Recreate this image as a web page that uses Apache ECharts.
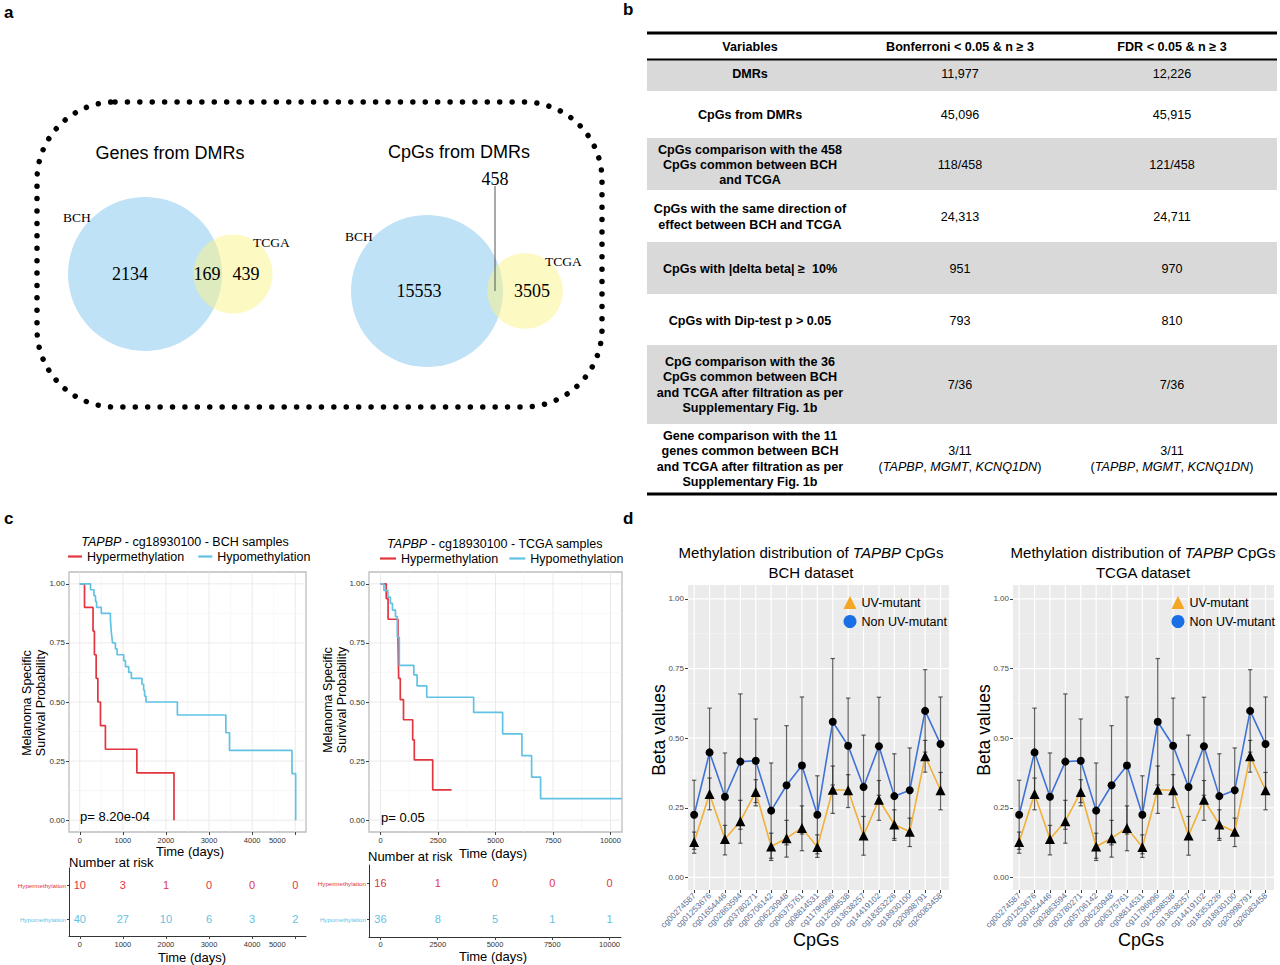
<!DOCTYPE html>
<html><head><meta charset="utf-8">
<script src="https://cdn.jsdelivr.net/npm/echarts@6/dist/echarts.min.js"></script>
<style>html,body{margin:0;padding:0;background:#fff}#c{width:1280px;height:965px}</style>
</head><body><div id="c"></div>
<script>
// ================= DATA =================
// Panel a – Venn counts: [BCH only, shared, TCGA only]
const vennSets = ['BCH', 'TCGA'];
const vennGenes = [2134, 169, 439];
const vennCpGs = [15553, 458, 3505];
const vennTitles = ['Genes from DMRs', 'CpGs from DMRs'];

// Panel b – table
const tableHeader = ['Variables', 'Bonferroni < 0.05 & n \u2265 3', 'FDR < 0.05 & n \u2265 3'];
const tableVariables = [
  'DMRs',
  'CpGs from DMRs',
  'CpGs comparison with the 458\nCpGs common between BCH\nand TCGA',
  'CpGs with the same direction of\neffect between BCH and TCGA',
  'CpGs with |delta beta| \u2265  10%',
  'CpGs with Dip-test p > 0.05',
  'CpG comparison with the 36\nCpGs common between BCH\nand TCGA after filtration as per\nSupplementary Fig. 1b',
  'Gene comparison with the 11\ngenes common between BCH\nand TCGA after filtration as per\nSupplementary Fig. 1b'
];
const tableBonferroni = ['11,977', '45,096', '118/458', '24,313', '951', '793', '7/36', '3/11'];
const tableFDR = ['12,226', '45,915', '121/458', '24,711', '970', '810', '7/36', '3/11'];
const tableGenes = ['TAPBP', 'MGMT', 'KCNQ1DN'];

// Panel c – Kaplan-Meier (time in days, survival probability)
const kmGroups = ['Hypermethylation', 'Hypomethylation'];
const bchHyperTime = [0, 110, 308, 340, 380, 420, 480, 595, 1325, 2187];
const bchHyperSurv = [1, 0.9, 0.8, 0.7, 0.6, 0.5, 0.4, 0.3, 0.2, 0];
const bchHypoTime = [0, 250, 330, 365, 390, 500, 711, 720, 730, 745, 760, 827, 866, 1020, 1060, 1136, 1197, 1443, 1482, 1505, 1536, 2265, 3390, 3475, 4925, 5010];
const bchHypoSurv = [1, 0.975, 0.95, 0.925, 0.9, 0.875, 0.85, 0.825, 0.8, 0.775, 0.75, 0.725, 0.7, 0.675, 0.65, 0.625, 0.6, 0.575, 0.55, 0.525, 0.5, 0.445, 0.37, 0.295, 0.197, 0];
const tcgaHyperTime = [0, 250, 330, 760, 790, 860, 1000, 1400, 1470, 2270, 3090];
const tcgaHyperSurv = [1, 0.9375, 0.85, 0.77, 0.6, 0.51, 0.425, 0.34, 0.255, 0.128, 0.128];
const tcgaHypoTime = [0, 150, 320, 430, 520, 650, 730, 818, 1450, 1590, 2010, 4050, 5310, 6150, 6570, 6960, 10500];
const tcgaHypoSurv = [1, 0.972, 0.944, 0.917, 0.889, 0.861, 0.775, 0.655, 0.615, 0.568, 0.52, 0.456, 0.365, 0.273, 0.182, 0.091, 0.091];
const bchPValue = 'p= 8.20e-04';
const tcgaPValue = 'p= 0.05';

// Risk tables
const bchRiskTimes = [0, 1000, 2000, 3000, 4000, 5000];
const bchRiskHyper = [10, 3, 1, 0, 0, 0];
const bchRiskHypo = [40, 27, 10, 6, 3, 2];
const tcgaRiskTimes = [0, 2500, 5000, 7500, 10000];
const tcgaRiskHyper = [16, 1, 0, 0, 0];
const tcgaRiskHypo = [36, 8, 5, 1, 1];

// KM tick labels
const kmYTicks = [0, 0.25, 0.5, 0.75, 1];
const kmYMinor = [0.125, 0.375, 0.625, 0.875];
const bchXTicks = [0, 1000, 2000, 3000, 4000, 5000];
const bchXMinor = [500, 1500, 2500, 3500, 4500];
const tcgaXTicks = [0, 2500, 5000, 7500, 10000];
const tcgaXMinor = [1250, 3750, 6250, 8750];

// Panel d – methylation distribution
const cpgs = ['cg00274587', 'cg01253676', 'cg01654446', 'cg02863594', 'cg03780271', 'cg05706142', 'cg06230948', 'cg06375761', 'cg08814531', 'cg11796996', 'cg12598538', 'cg13638257', 'cg14419102', 'cg18353226', 'cg18930100', 'cg20998791', 'cg26083458'];
const uvMean = [0.127, 0.300, 0.138, 0.202, 0.307, 0.111, 0.141, 0.178, 0.109, 0.315, 0.313, 0.151, 0.279, 0.190, 0.164, 0.435, 0.313];
const uvLow  = [0.087, 0.243, 0.081, 0.123, 0.257, 0.061, 0.073, 0.096, 0.072, 0.230, 0.251, 0.080, 0.205, 0.133, 0.111, 0.378, 0.243];
const uvHigh = [0.163, 0.357, 0.187, 0.277, 0.351, 0.159, 0.205, 0.257, 0.153, 0.400, 0.369, 0.219, 0.348, 0.243, 0.213, 0.492, 0.377];
const nuvMean = [0.225, 0.449, 0.290, 0.416, 0.419, 0.240, 0.331, 0.402, 0.225, 0.559, 0.473, 0.325, 0.471, 0.292, 0.313, 0.598, 0.479];
const nuvLow  = [0.101, 0.290, 0.133, 0.173, 0.269, 0.069, 0.117, 0.156, 0.085, 0.332, 0.302, 0.139, 0.295, 0.140, 0.161, 0.450, 0.310];
const nuvHigh = [0.349, 0.608, 0.447, 0.659, 0.569, 0.411, 0.545, 0.648, 0.365, 0.786, 0.644, 0.511, 0.647, 0.444, 0.465, 0.746, 0.648];
const dYTicks = [0, 0.25, 0.5, 0.75, 1];
const dYMinor = [0.125, 0.375, 0.625, 0.875];
const dSeriesNames = ['UV-mutant', 'Non UV-mutant'];
const dDatasets = ['BCH dataset', 'TCGA dataset'];

// ================= RENDER =================
const SANS = '"Liberation Sans", Arial, sans-serif';
const SERIF = '"Liberation Serif", "Times New Roman", serif';
function hasFont(name) {
  const c = document.createElement('canvas').getContext('2d');
  const s = 'mmmmmmmmmmlli WWW 0123456789';
  c.font = '20px monospace'; const a = c.measureText(s).width;
  c.font = '20px "' + name + '", monospace'; const b = c.measureText(s).width;
  return Math.abs(a - b) > 0.5;
}
const NARROW = hasFont('Liberation Sans Narrow');
const TFONT = NARROW ? '"Liberation Sans Narrow", ' + SANS : SANS;
const TSIZE = NARROW ? 13.5 : 12.6;

const RED = '#e2353f', BLUE = '#62c2e4';
const ORANGE = '#f0b13a', DBLUE = '#3f72d6';

function T(x, y, text, o) {
  o = o || {};
  const st = {
    text: text, fill: o.color || '#000', fontSize: o.size || 13,
    fontFamily: o.family || SANS, fontWeight: o.weight || 'normal',
    fontStyle: o.fstyle || 'normal', align: o.align || 'center',
    verticalAlign: o.valign || 'middle'
  };
  if (o.lh) st.lineHeight = o.lh;
  if (o.rich) st.rich = o.rich;
  return { type: 'text', x: x, y: y, rotation: o.rot || 0, silent: true, z: 10, style: st };
}
function italicRich(size, family) {
  return { i: { fontStyle: 'italic', fontSize: size, fontFamily: family, fill: '#000' } };
}

const G = [];
// panel labels
G.push(T(4, 12, 'a', { size: 17, weight: 'bold', align: 'left' }));
G.push(T(623, 9, 'b', { size: 17, weight: 'bold', align: 'left' }));
G.push(T(4, 518, 'c', { size: 17, weight: 'bold', align: 'left' }));
G.push(T(623, 518, 'd', { size: 17, weight: 'bold', align: 'left' }));

// ---- Panel a: dotted frame + Venn diagrams ----
G.push({ type: 'rect', silent: true, shape: { x: 37, y: 102, width: 565, height: 305, r: 78 },
  style: { fill: 'none', stroke: '#000', lineWidth: 5.5, lineDash: [0.01, 12.4], lineCap: 'round' } });

function venn(counts, cx, cy, R, d, lab) {
  const r = R * Math.sqrt((counts[1] + counts[2]) / (counts[0] + counts[1]));
  G.push({ type: 'circle', silent: true, shape: { cx: cx, cy: cy, r: R }, style: { fill: '#bfe2f7' } });
  G.push({ type: 'circle', silent: true, shape: { cx: cx + d, cy: cy, r: r }, style: { fill: 'rgba(251,243,135,0.5)' } });
  G.push(T(lab.title[0], lab.title[1], lab.titleText, { size: 18 }));
  G.push(T(lab.bch[0], lab.bch[1], vennSets[0], { size: 13.5, family: SERIF, align: 'left' }));
  G.push(T(lab.tcga[0], lab.tcga[1], vennSets[1], { size: 13.5, family: SERIF, align: 'left' }));
  G.push(T(lab.n0[0], lab.n0[1], String(counts[0]), { size: 18, family: SERIF }));
  G.push(T(lab.n1[0], lab.n1[1], String(counts[1]), { size: 18, family: SERIF }));
  G.push(T(lab.n2[0], lab.n2[1], String(counts[2]), { size: 18, family: SERIF }));
}
venn(vennGenes, 145, 274, 77, 88, {
  titleText: vennTitles[0], title: [170, 153], bch: [63, 217], tcga: [253, 242],
  n0: [130, 274], n1: [207, 274], n2: [246, 274] });
venn(vennCpGs, 427, 291, 76, 98, {
  titleText: vennTitles[1], title: [459, 152], bch: [345, 236], tcga: [545, 261],
  n0: [419, 291], n1: [495, 179], n2: [532, 291] });
G.push({ type: 'line', silent: true, shape: { x1: 495, y1: 186, x2: 495, y2: 291 }, style: { stroke: '#555', lineWidth: 1 } });

// ---- Panel b: table ----
const TX0 = 647, TX1 = 1277, colX = [750, 960, 1172];
const rowBounds = [60, 91, 138, 190, 242, 294, 345, 424, 492];
const rowTextY = [74, 115, 165, 217, 269, 321, 385, 459];
for (let r = 0; r < tableVariables.length; r++) {
  if (r % 2 === 0) G.push({ type: 'rect', silent: true, shape: { x: TX0, y: rowBounds[r], width: TX1 - TX0, height: rowBounds[r + 1] - rowBounds[r] }, style: { fill: '#d9d9d9' } });
}
[[33, 3], [59.5, 2.2], [494, 3]].forEach(function (l) {
  G.push({ type: 'line', silent: true, shape: { x1: TX0, y1: l[0], x2: TX1, y2: l[0] }, style: { stroke: '#000', lineWidth: l[1] } });
});
tableHeader.forEach(function (h, i) { G.push(T(colX[i], 47, h, { size: TSIZE, family: TFONT, weight: 'bold' })); });
const geneStr = '(' + tableGenes.map(function (g) { return '{i|' + g + '}'; }).join(', ') + ')';
for (let r = 0; r < tableVariables.length; r++) {
  const cy = rowTextY[r];
  G.push(T(colX[0], cy, tableVariables[r], { size: TSIZE, family: TFONT, weight: 'bold', lh: 15.3 }));
  const last = r === tableVariables.length - 1;
  [tableBonferroni[r], tableFDR[r]].forEach(function (v, k) {
    if (last) G.push(T(colX[k + 1], cy, v + '\n' + geneStr, { size: TSIZE, family: TFONT, lh: 15.3, rich: italicRich(TSIZE, TFONT) }));
    else G.push(T(colX[k + 1], cy, v, { size: TSIZE, family: TFONT }));
  });
}

// ---- Panel c texts ----
G.push(T(185, 542, '{i|TAPBP} - cg18930100 - BCH samples', { size: 12.5, rich: italicRich(12.5, SANS) }));
G.push(T(495, 544, '{i|TAPBP} - cg18930100 - TCGA samples', { size: 12.5, rich: italicRich(12.5, SANS) }));
G.push(T(34, 703, 'Melanoma Specific\nSurvival Probability', { size: 12.5, lh: 14.5, rot: Math.PI / 2 }));
G.push(T(335, 700, 'Melanoma Specific\nSurvival Probability', { size: 12.5, lh: 14.5, rot: Math.PI / 2 }));
G.push(T(190, 851, 'Time (days)', { size: 13 }));
G.push(T(493, 853, 'Time (days)', { size: 13 }));
G.push(T(80, 816, bchPValue, { size: 13, align: 'left' }));
G.push(T(381, 817, tcgaPValue, { size: 13, align: 'left' }));
G.push(T(69, 862, 'Number at risk', { size: 13, align: 'left' }));
G.push(T(368, 856, 'Number at risk', { size: 13, align: 'left' }));
G.push(T(192, 957, 'Time (days)', { size: 13 }));
G.push(T(493, 956, 'Time (days)', { size: 13 }));

// ---- Panel d texts ----
[[811, 1], [1143, 2]].forEach(function (p, k) {
  G.push(T(p[0], 552, 'Methylation distribution of {i|TAPBP} CpGs', { size: 15, rich: italicRich(15, SANS) }));
  G.push(T(p[0], 572, dDatasets[k], { size: 15 }));
});
G.push(T(659, 730, 'Beta values', { size: 17.5, rot: Math.PI / 2 }));
G.push(T(984, 730, 'Beta values', { size: 17.5, rot: Math.PI / 2 }));
G.push(T(816, 940, 'CpGs', { size: 18 }));
G.push(T(1141, 940, 'CpGs', { size: 18 }));

// ---- grids ----
const grids = [
  { left: 69, top: 572, width: 237, height: 260, show: true, backgroundColor: '#fff', borderColor: '#bdbdbd', borderWidth: 1.3 },
  { left: 369, top: 572, width: 253, height: 260, show: true, backgroundColor: '#fff', borderColor: '#bdbdbd', borderWidth: 1.3 },
  { left: 69, top: 868, width: 237, height: 68 },
  { left: 369, top: 865, width: 252, height: 72 },
  { left: 688, top: 585, width: 261, height: 305, show: true, backgroundColor: '#ebebeb', borderWidth: 0 },
  { left: 1013, top: 585, width: 261, height: 305, show: true, backgroundColor: '#ebebeb', borderWidth: 0 }
];

function valAxis(gi, min, max, ticks, o) {
  o = o || {};
  return {
    type: 'value', gridIndex: gi, min: min, max: max,
    axisLine: { show: !!o.line, onZero: false, lineStyle: { color: '#333', width: 1 } },
    splitLine: { show: false },
    axisTick: { show: true, customValues: ticks, length: 3, lineStyle: { color: '#444' } },
    axisLabel: { customValues: ticks, fontSize: o.size || 7.5, color: o.color || '#333', margin: o.margin || 4,
      formatter: o.fmt || function (v) { return String(v); }, rotate: o.rotate || 0, fontFamily: SANS,
      rich: o.rich }
  };
}
const f2 = function (v) { return v.toFixed(2); };
// the last BCH time label sits left of its tick in the reference
const bchFmt = function (v) { return v === 5000 ? '{s|5000}' : String(v); };
const bchRich = { s: { fontSize: 7.5, color: '#333', padding: [0, 36, 0, 0], fontFamily: SANS } };
const idx = cpgs.map(function (c, i) { return i; });
const xAxes = [
  valAxis(0, -250, 5250, bchXTicks, { margin: 4, fmt: bchFmt, rich: bchRich }),
  valAxis(1, -500, 10500, tcgaXTicks, { margin: 4 }),
  valAxis(2, -250, 5250, bchRiskTimes, { line: true, margin: 4, fmt: bchFmt, rich: bchRich }),
  valAxis(3, -500, 10500, tcgaRiskTimes, { line: true, margin: 3 }),
  valAxis(4, -0.4, 16.55, idx, { rotate: 45, size: 8.3, color: '#5b6f94', fmt: function (v) { return cpgs[v]; }, margin: 4 }),
  valAxis(5, -0.4, 16.55, idx, { rotate: 45, size: 8.3, color: '#5b6f94', fmt: function (v) { return cpgs[v]; }, margin: 4 })
];
function riskY(gi) {
  return {
    type: 'category', gridIndex: gi, data: [kmGroups[1], kmGroups[0]],
    axisLine: { show: true, onZero: false, lineStyle: { color: '#333', width: 1 } },
    axisTick: { show: true, alignWithLabel: true, length: 2, lineStyle: { color: '#444' } },
    splitLine: { show: false },
    axisLabel: { fontSize: 6.2, margin: 3, fontFamily: SANS, color: function (v) { return v === kmGroups[0] ? RED : BLUE; } }
  };
}
const yAxes = [
  valAxis(0, -0.05, 1.05, kmYTicks, { fmt: f2, size: 8 }),
  valAxis(1, -0.05, 1.05, kmYTicks, { fmt: f2, size: 8 }),
  riskY(2), riskY(3),
  valAxis(4, -0.045, 1.05, dYTicks, { fmt: f2, size: 8, color: '#4d4d4d' }),
  valAxis(5, -0.045, 1.05, dYTicks, { fmt: f2, size: 8, color: '#4d4d4d' })
];

function gl(gi, vals, dir, color, w) {
  return {
    type: 'custom', xAxisIndex: gi, yAxisIndex: gi, silent: true, z: 1,
    data: vals.map(function (v) { return [v, v]; }), encode: { x: 0, y: 1 },
    renderItem: function (params, api) {
      const cs = params.coordSys; const v = api.value(0); let shape;
      if (dir === 'x') { const x = api.coord([v, 0.5])[0]; shape = { x1: x, y1: cs.y, x2: x, y2: cs.y + cs.height }; }
      else { const y = api.coord([0, v])[1]; shape = { x1: cs.x, y1: y, x2: cs.x + cs.width, y2: y }; }
      return { type: 'line', shape: shape, style: { stroke: color, lineWidth: w } };
    }
  };
}
function km(gi, name, times, surv, color) {
  return {
    type: 'line', name: name, xAxisIndex: gi, yAxisIndex: gi, step: 'end', symbol: 'none', z: 4,
    data: times.map(function (t, i) { return [t, surv[i]]; }),
    lineStyle: { color: color, width: 1.7 }, itemStyle: { color: color }
  };
}
function risk(gi, times, counts, row, color) {
  return {
    type: 'custom', xAxisIndex: gi, yAxisIndex: gi, silent: true, z: 3,
    data: times.map(function (t, i) { return [t, row, counts[i]]; }), encode: { x: 0, y: 1 },
    renderItem: function (params, api) {
      const p = api.coord([api.value(0), api.value(1)]);
      return { type: 'text', x: p[0], y: p[1], style: { text: String(api.value(2)), fill: color, fontSize: 11, fontFamily: SANS, align: 'center', verticalAlign: 'middle' } };
    }
  };
}
function eb(gi, lo, hi) {
  return {
    type: 'custom', xAxisIndex: gi, yAxisIndex: gi, silent: true, z: 3,
    data: lo.map(function (l, i) { return [i, l, hi[i]]; }), encode: { x: 0, y: [1, 2] },
    renderItem: function (params, api) {
      const x = api.value(0);
      const a = api.coord([x, api.value(1)]), b = api.coord([x, api.value(2)]);
      const c = 2.2, st = { stroke: 'rgba(35,35,35,0.72)', lineWidth: 1.2 };
      return { type: 'group', children: [
        { type: 'line', shape: { x1: a[0], y1: a[1], x2: b[0], y2: b[1] }, style: st },
        { type: 'line', shape: { x1: a[0] - c, y1: a[1], x2: a[0] + c, y2: a[1] }, style: st },
        { type: 'line', shape: { x1: b[0] - c, y1: b[1], x2: b[0] + c, y2: b[1] }, style: st }
      ] };
    }
  };
}
function dLine(gi, name, vals, color, sym, size) {
  return {
    type: 'line', name: name, xAxisIndex: gi, yAxisIndex: gi, z: 4,
    data: vals.map(function (v, i) { return [i, v]; }),
    symbol: sym, symbolSize: size, showSymbol: true,
    lineStyle: { color: color, width: 1.6 }, itemStyle: { color: '#000' }
  };
}

const series = [];
// KM grid lines
[[0, bchXTicks, bchXMinor], [1, tcgaXTicks, tcgaXMinor]].forEach(function (g) {
  series.push(gl(g[0], g[2], 'x', '#f3f3f3', 0.6));
  series.push(gl(g[0], kmYMinor, 'y', '#f3f3f3', 0.6));
  series.push(gl(g[0], g[1], 'x', '#e8e8e8', 0.9));
  series.push(gl(g[0], kmYTicks, 'y', '#e8e8e8', 0.9));
});
series.push(km(0, kmGroups[0], bchHyperTime, bchHyperSurv, RED));
series.push(km(0, kmGroups[1], bchHypoTime, bchHypoSurv, BLUE));
series.push(km(1, kmGroups[0], tcgaHyperTime, tcgaHyperSurv, RED));
series.push(km(1, kmGroups[1], tcgaHypoTime, tcgaHypoSurv, BLUE));
series.push(risk(2, bchRiskTimes, bchRiskHyper, 1, RED));
series.push(risk(2, bchRiskTimes, bchRiskHypo, 0, BLUE));
series.push(risk(3, tcgaRiskTimes, tcgaRiskHyper, 1, RED));
series.push(risk(3, tcgaRiskTimes, tcgaRiskHypo, 0, BLUE));
// panel d
[4, 5].forEach(function (gi) {
  series.push(gl(gi, dYMinor, 'y', '#f7f7f7', 0.6));
  series.push(gl(gi, dYTicks, 'y', '#ffffff', 1.2));
  series.push(gl(gi, idx, 'x', '#ffffff', 1.2));
  series.push(eb(gi, nuvLow, nuvHigh));
  series.push(eb(gi, uvLow, uvHigh));
  series.push(dLine(gi, dSeriesNames[0], uvMean, ORANGE, 'triangle', 10));
  series.push(dLine(gi, dSeriesNames[1], nuvMean, DBLUE, 'circle', 8));
});

function kmLegend(left, top, w, gap) {
  return { data: kmGroups.map(function (n, i) { return { name: n, icon: 'rect', itemStyle: { color: i === 0 ? RED : BLUE } }; }),
    left: left, top: top, padding: 0, itemWidth: w, itemHeight: 2.2, itemGap: gap, selectedMode: false,
    textStyle: { fontSize: 12.5, color: '#000', fontFamily: SANS } };
}
function dLegend(left) {
  return { orient: 'vertical', left: left, top: 596, padding: 0, itemWidth: 13, itemHeight: 13, itemGap: 6, selectedMode: false,
    textStyle: { fontSize: 12.5, color: '#000', fontFamily: SANS },
    data: [
      { name: dSeriesNames[0], icon: 'triangle', itemStyle: { color: '#f5a623' }, lineStyle: { opacity: 0 } },
      { name: dSeriesNames[1], icon: 'circle', itemStyle: { color: '#1b6fe6' }, lineStyle: { opacity: 0 } }
    ] };
}

const chart = echarts.init(document.getElementById('c'), null, { renderer: 'svg', width: 1280, height: 965 });
chart.setOption({
  animation: false,
  backgroundColor: '#fff',
  textStyle: { fontFamily: SANS },
  grid: grids,
  xAxis: xAxes,
  yAxis: yAxes,
  legend: [kmLegend(68, 550, 14, 14), kmLegend(380, 552, 16, 11), dLegend(843.5), dLegend(1171.5)],
  series: series,
  graphic: G
});
</script>
</body></html>
